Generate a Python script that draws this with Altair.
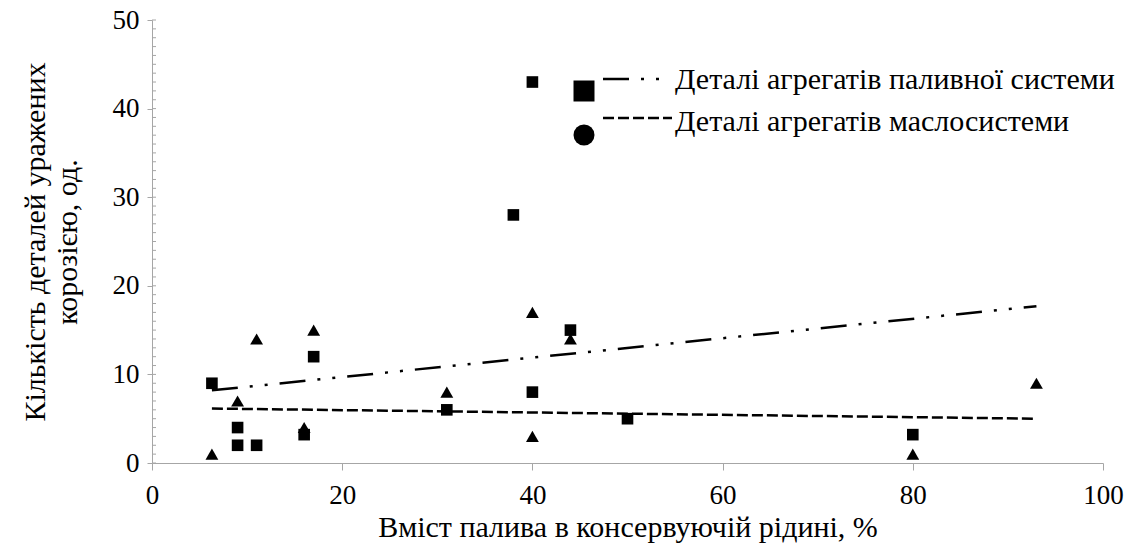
import altair as alt
import pandas as pd

# --- data ---
sq_x = [6.3, 9, 9, 11, 16, 17, 31, 38, 40, 40, 44, 50, 80]
sq_y = [9, 4, 2, 2, 3.2, 12, 6, 28, 43, 8, 15, 5, 3.2]
tr_x = [6.3, 9, 11, 16, 17, 31, 40, 40, 44, 80, 93]
tr_y = [1, 7, 14, 4, 15, 8, 17, 3, 14, 1, 9]

trend_x = [6.3, 93]
fuel_trend_y = [8.2, 17.7]
oil_trend_y = [6.15, 5.0]

x_ticks = [0, 20, 40, 60, 80, 100]
y_ticks = [0, 10, 20, 30, 40, 50]
y_minor = list(range(0, 51))

legend_labels = ["Деталі агрегатів паливної системи", "Деталі агрегатів маслосистеми"]
x_title = "Вміст палива в консервуючій рідині, %"
y_title = ["Кількість деталей уражених", "корозією, од."]

FONT = "Liberation Serif"
GRAY = "#A6A6A6"
W, H = 951, 443
FUEL_DASH = [26, 12, 3, 12, 3, 12]
OIL_DASH = [11, 4]

sq_df = pd.DataFrame({"x": sq_x, "y": sq_y})
tr_df = pd.DataFrame({"x": tr_x, "y": tr_y})
fuel_df = pd.DataFrame({"x": trend_x, "y": fuel_trend_y})
oil_df = pd.DataFrame({"x": trend_x, "y": oil_trend_y})
minor_df = pd.DataFrame({"v": y_minor})

xs = alt.Scale(domain=[0, 100], nice=False)
ys = alt.Scale(domain=[0, 50], nice=False)

x_axis = alt.Axis(values=x_ticks, title=x_title, grid=False, tickSize=7, labelFlush=False,
                  labelPadding=12, titlePadding=4, domainColor=GRAY, tickColor=GRAY)
y_axis = alt.Axis(values=y_ticks, title=y_title, grid=False, tickSize=5, labelFlush=False,
                  labelPadding=8, titlePadding=30, titleLineHeight=32,
                  domainColor=GRAY, tickColor=GRAY)

X = lambda f="x": alt.X(f"{f}:Q", scale=xs, axis=x_axis)
Y = lambda f="y": alt.Y(f"{f}:Q", scale=ys, axis=y_axis)

minor = alt.Chart(minor_df).mark_rule(color=GRAY, strokeWidth=1).encode(
    y=Y("v"), x=alt.value(0), x2=alt.value(4),
)

fuel_line = alt.Chart(fuel_df).mark_line(color="black", strokeWidth=2.5, strokeDash=FUEL_DASH).encode(
    x=X(), y=Y())
oil_line = alt.Chart(oil_df).mark_line(color="black", strokeWidth=2.5, strokeDash=OIL_DASH).encode(
    x=X(), y=Y())

squares = alt.Chart(sq_df).mark_point(shape="square", filled=True, color="black", size=135, opacity=1).encode(
    x=X(), y=Y())
triangles = alt.Chart(tr_df).mark_point(shape="triangle-up", filled=True, color="black", size=165, opacity=1).encode(
    x=X(), y=Y())

one = pd.DataFrame({"k": [0]})
LF = 30
leg_sq = alt.Chart(one).mark_point(shape="square", filled=True, color="black", size=441, opacity=1).encode(
    x=alt.value(432), y=alt.value(71))
leg_ci = alt.Chart(one).mark_point(shape="circle", filled=True, color="black", size=441, opacity=1).encode(
    x=alt.value(432), y=alt.value(115))
leg_fuel = alt.Chart(one).mark_rule(color="black", strokeWidth=2.5, strokeDash=FUEL_DASH).encode(
    x=alt.value(451), x2=alt.value(509), y=alt.value(59))
leg_oil = alt.Chart(one).mark_rule(color="black", strokeWidth=2.5, strokeDash=OIL_DASH).encode(
    x=alt.value(451), x2=alt.value(520), y=alt.value(98))
leg_t1 = alt.Chart(one).mark_text(font=FONT, fontSize=LF, align="left", baseline="middle", color="black").encode(
    x=alt.value(523), y=alt.value(60), text=alt.value(legend_labels[0]))
leg_t2 = alt.Chart(one).mark_text(font=FONT, fontSize=LF, align="left", baseline="middle", color="black").encode(
    x=alt.value(523), y=alt.value(102), text=alt.value(legend_labels[1]))

chart = alt.layer(
    minor, fuel_line, oil_line, squares, triangles,
    leg_sq, leg_ci, leg_fuel, leg_oil, leg_t1, leg_t2,
).properties(
    width=W, height=H,
    autosize=alt.AutoSizeParams(type="none"),
    padding={"left": 144, "top": 12, "right": 21, "bottom": 81},
).configure_view(stroke=None).configure_axis(
    labelFont=FONT, labelFontSize=27, labelColor="black",
    titleFont=FONT, titleFontSize=30, titleColor="black", titleFontWeight="normal",
)

chart.save("out.html", embed_options={"renderer": "svg", "actions": False})
